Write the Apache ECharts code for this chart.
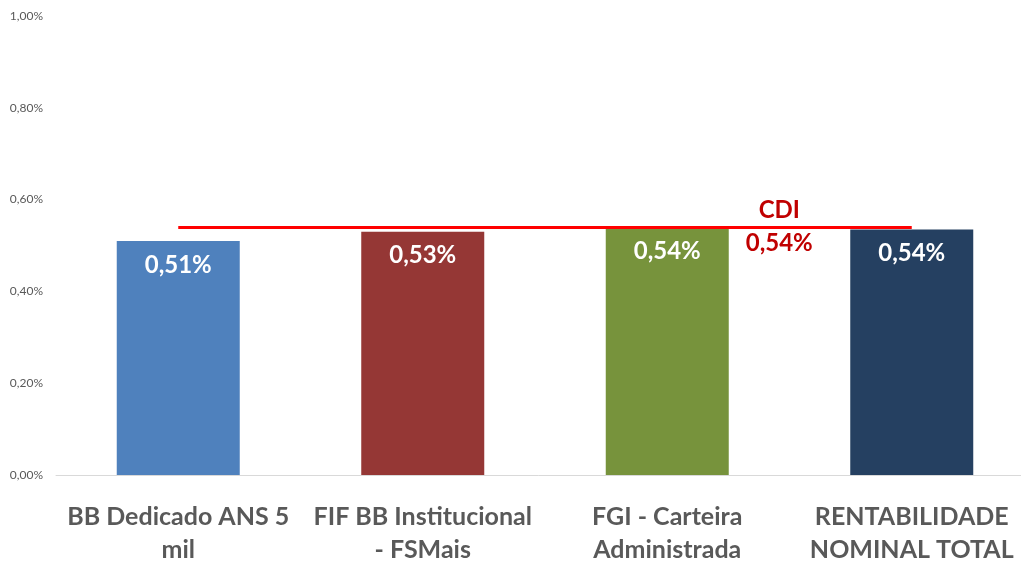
<!DOCTYPE html>
<html>
<head>
<meta charset="utf-8">
<script src="https://cdn.jsdelivr.net/npm/echarts@6/dist/echarts.min.js"></script>
<style>
html, body { margin: 0; padding: 0; background: #fff; }
#chart { width: 1021px; height: 564px; }
</style>
</head>
<body>
<div id="chart"></div>
<script>
// dados
var categorias = ['BB Dedicado ANS 5 mil', 'FIF BB Institucional - FSMais', 'FGI - Carteira Administrada', 'RENTABILIDADE NOMINAL TOTAL'];
var rotulos = ['BB Dedicado ANS 5\nmil', 'FIF BB Institucional\n- FSMais', 'FGI - Carteira\nAdministrada', 'RENTABILIDADE\nNOMINAL TOTAL'];
var rentabilidade = [0.51, 0.53, 0.54, 0.535];
var cores = ['#4f81bd', '#953735', '#77933c', '#254061'];
var cdi = 0.54;

function pct(v) {
	return v.toFixed(2).replace('.', ',') + '%';
}

var chart = echarts.init(document.getElementById('chart'));

var option = {
	animation: false,
	grid: { left: 56, right: -13, top: 16, bottom: 89, outerBoundsMode: 'none', containLabel: false },
	xAxis: {
		type: 'category',
		data: categorias,
		axisTick: { show: false },
		axisLine: { lineStyle: { color: '#d9d9d9', width: 1 } },
		axisLabel: {
			interval: 0,
			hideOverlap: false,
			margin: 25,
			color: '#595959',
			fontFamily: 'Lato',
			fontWeight: 'bold',
			fontSize: 25,
			lineHeight: 33,
			align: 'center',
			formatter: function(v, i) { return rotulos[i]; }
		}
	},
	yAxis: {
		type: 'value',
		min: 0,
		max: 1,
		interval: 0.2,
		axisLine: { show: false },
		axisTick: { show: false },
		splitLine: { show: false },
		axisLabel: {
			margin: 13,
			color: '#595959',
			fontFamily: 'Lato',
			fontSize: 12,
			formatter: function(v) { return pct(v); }
		}
	},
	series: [{
		type: 'bar',
		barWidth: 123,
		data: rentabilidade.map(function(v, i) {
			return { value: v, itemStyle: { color: cores[i] } };
		}),
		label: {
			show: true,
			position: 'insideTop',
			distance: 12,
			color: '#fff',
			fontFamily: 'Lato',
			fontWeight: 'bold',
			fontSize: 24,
			formatter: function(p) { return pct(p.value); }
		},
		markLine: {
			symbol: 'none',
			silent: true,
			lineStyle: { color: '#ff0000', width: 3, type: 'solid' },
			label: { show: false },
			data: [[{ coord: [0, cdi] }, { coord: [3, cdi] }]]
		},
		markPoint: {
			symbol: 'circle',
			symbolSize: 0,
			silent: true,
			data: [{ coord: [2, cdi] }],
			label: {
				show: true,
				position: 'inside',
				offset: [112, 0],
				color: '#c00000',
				fontFamily: 'Lato',
				fontWeight: 'bold',
				fontSize: 24,
				lineHeight: 33,
				align: 'center',
				formatter: function() { return 'CDI\n' + pct(cdi); }
			}
		}
	}]
};

chart.setOption(option);
</script>
</body>
</html>
